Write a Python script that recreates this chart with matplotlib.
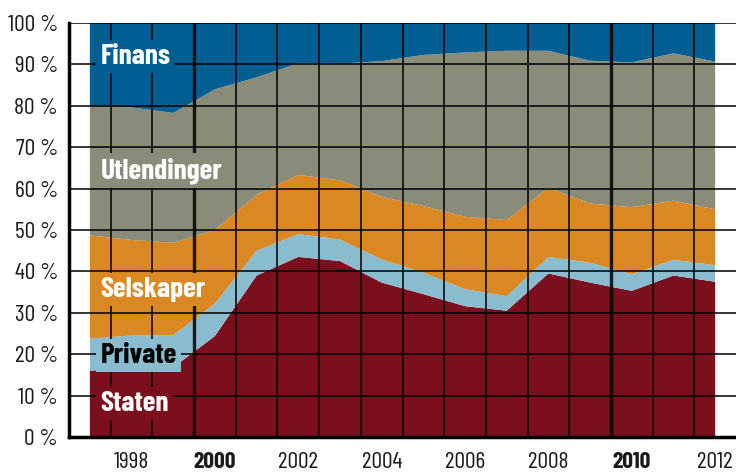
import numpy as np
import matplotlib
matplotlib.use("Agg")
import matplotlib.pyplot as plt

plt.rcParams['font.family'] = ['Barlow Condensed', 'Roboto Condensed', 'DejaVu Sans']

years = list(range(1997, 2013))

# shares in percent (bottom to top, cumulative tops)
staten = [16.0, 16.7, 16.8, 24.4, 39.0, 43.5, 42.5, 37.3, 34.5, 31.6, 30.5, 39.5, 37.3, 35.3, 39.0, 37.5]
private_top = [23.8, 24.5, 24.6, 32.2, 45.0, 49.0, 47.7, 42.9, 39.7, 35.7, 34.0, 43.5, 42.1, 39.3, 42.8, 41.5]
selskaper_top = [48.7, 47.6, 46.9, 50.0, 58.5, 63.3, 62.0, 58.0, 55.8, 53.2, 52.4, 60.2, 56.4, 55.5, 57.1, 55.0]
utlending_top = [80.0, 79.6, 78.3, 84.0, 86.9, 90.3, 90.2, 90.8, 92.3, 92.9, 93.3, 93.3, 90.9, 90.5, 92.7, 90.7]

series_names = ["Staten", "Private", "Selskaper", "Utlendinger", "Finans"]
colors = ["#7b0f1d", "#89bccf", "#d98824", "#8b8b79", "#005e92"]

x_ticks = [1998, 2000, 2002, 2004, 2006, 2008, 2010, 2012]
y_ticks = list(range(0, 101, 10))

# convert cumulative tops into the stacked values
staten = np.array(staten)
private = np.array(private_top) - staten
selskaper = np.array(selskaper_top) - np.array(private_top)
utlendinger = np.array(utlending_top) - np.array(selskaper_top)
finans = 100 - np.array(utlending_top)

fig = plt.figure(figsize=(7.36, 4.72), dpi=100)
ax = fig.add_axes([0.0938, 0.0742, 0.9062, 0.877])

ax.stackplot(years, staten, private, selskaper, utlendinger, finans,
             colors=colors, lw=0, zorder=1)

ax.set_xlim(1996.5, 2012.5)
ax.set_ylim(0, 100)

# grid drawn over the areas, heavier line before each new decade
for yv in y_ticks[1:]:
    ax.plot([1996.5, 2012.5], [yv, yv], color="black", lw=1.3, alpha=0.85,
            zorder=10, solid_capstyle="butt")
for xv in np.arange(1997.5, 2012.0, 1.0):
    ax.plot([xv, xv], [0, 100], color="black", alpha=0.85, zorder=10,
            solid_capstyle="butt", lw=2.4 if xv in (1999.5, 2009.5) else 1.3)

for sp in ["top", "right"]:
    ax.spines[sp].set_visible(False)
ax.spines["left"].set_linewidth(2.5)
ax.spines["bottom"].set_linewidth(2.5)
ax.spines["left"].set_zorder(11)
ax.spines["bottom"].set_zorder(11)

ax.set_yticks(y_ticks)
ax.set_yticklabels([f"{v} %" for v in y_ticks])
ax.set_xticks(x_ticks)
ax.set_xticklabels([str(v) for v in x_ticks])
ax.tick_params(axis="both", length=0, labelsize=17, colors="#1a1a1a")
ax.tick_params(axis="y", pad=8)
ax.tick_params(axis="x", pad=11)
for lab in ax.get_xticklabels():
    if lab.get_text() in ("2000", "2010"):
        lab.set_fontweight("bold")

label_y = [8.0, 19.6, 35.7, 64.3, 92.0]
label_col = ["white", "black", "white", "white", "white"]
for name, yv, tc, bg in zip(series_names, label_y, label_col, colors):
    ax.text(1997.25, yv, name, ha="left", va="center", fontsize=21,
            fontweight="bold", color=tc, zorder=12,
            bbox=dict(facecolor=bg, edgecolor="none", pad=3))

fig.savefig("out.png", dpi=100)
